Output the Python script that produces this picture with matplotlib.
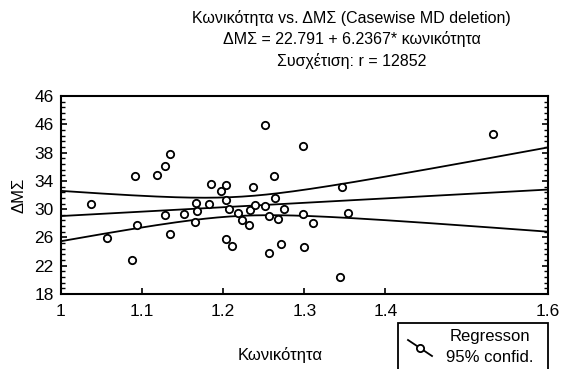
import numpy as np
import matplotlib.pyplot as plt
from matplotlib.lines import Line2D
from matplotlib.patches import Rectangle
from matplotlib.ticker import AutoMinorLocator

plt.rcParams['font.family'] = ['Liberation Sans', 'DejaVu Sans']

# Κωνικότητα values (x)
konikotita = [1.037, 1.057, 1.088, 1.091, 1.094, 1.119, 1.128, 1.128, 1.135, 1.135,
              1.152, 1.165, 1.166, 1.168, 1.183, 1.185, 1.197, 1.203, 1.204, 1.204,
              1.207, 1.211, 1.218, 1.223, 1.232, 1.233, 1.237, 1.239, 1.252, 1.252,
              1.256, 1.257, 1.263, 1.264, 1.268, 1.271, 1.275, 1.299, 1.298, 1.300,
              1.311, 1.346, 1.344, 1.354, 1.532]
# ΔΜΣ values (y)
dms = [30.77, 25.92, 22.77, 34.73, 27.72, 34.79, 29.13, 36.10, 37.76, 26.44,
       29.36, 28.18, 30.83, 29.74, 30.77, 33.60, 32.61, 33.37, 31.25, 25.82,
       29.98, 24.75, 29.46, 28.51, 27.72, 29.88, 33.13, 30.63, 41.95, 30.40,
       28.99, 23.80, 34.69, 31.58, 28.57, 25.07, 29.98, 38.98, 29.36, 24.69,
       28.00, 33.13, 20.45, 29.41, 40.67]

# printed regression coefficients
INTERCEPT = 22.791
SLOPE = 6.2367
T_CRIT = 2.017  # t(0.975, n-2)

x_ticks = [1.0, 1.1, 1.2, 1.3, 1.4, 1.6]
x_ticklabels = ['1', '1.1', '1.2', '1.3', '1.4', '1.6']
y_ticks = [18, 22, 26, 30, 34, 38, 42, 46]
y_ticklabels = ['18', '22', '26', '30', '34', '38', '46', '46']

x = np.array(konikotita)
y = np.array(dms)
n = len(x)
resid = y - (INTERCEPT + SLOPE * x)
s = np.sqrt(np.sum(resid ** 2) / (n - 2))
sxx = np.sum((x - x.mean()) ** 2)

xs = np.linspace(1.0, 1.6, 200)
fit = INTERCEPT + SLOPE * xs
hw = T_CRIT * s * np.sqrt(1.0 / n + (xs - x.mean()) ** 2 / sxx)

fig = plt.figure(figsize=(5.63, 3.69), dpi=100)
ax = fig.add_axes([0.108, 0.203, 0.865, 0.537])

ax.plot(xs, fit, color='black', lw=1.3)
ax.plot(xs, fit + hw, color='black', lw=1.3)
ax.plot(xs, fit - hw, color='black', lw=1.3)
ax.scatter(x, y, s=28, facecolor='white', edgecolor='black', linewidth=1.3, zorder=3)

ax.set_xlim(1.0, 1.6)
ax.set_ylim(18, 46)
ax.set_xticks(x_ticks)
ax.set_xticklabels(x_ticklabels)
ax.set_yticks(y_ticks)
ax.set_yticklabels(y_ticklabels)
ax.yaxis.set_minor_locator(AutoMinorLocator(5))
ax.tick_params(axis='both', which='major', direction='in', length=4, width=1.2,
               labelsize=12.5, pad=5)
ax.tick_params(axis='x', pad=7)
ax.tick_params(axis='y', which='both', left=True, right=True)
ax.tick_params(axis='y', which='minor', direction='in', length=3, width=1.0)
for sp in ax.spines.values():
    sp.set_linewidth(1.5)

ax.set_ylabel('ΔΜΣ', fontsize=12, labelpad=6)
fig.text(280 / 563, 1 - 355 / 369, 'Κωνικότητα', ha='center', va='center', fontsize=12)

# title block
fig.text(0.625, 1 - 18 / 369, 'Κωνικότητα vs. ΔΜΣ (Casewise MD deletion)',
         ha='center', va='center', fontsize=11.5)
fig.text(0.625, 1 - 39 / 369, 'ΔΜΣ = 22.791 + 6.2367* κωνικότητα',
         ha='center', va='center', fontsize=11.5)
fig.text(0.625, 1 - 61 / 369, 'Συσχέτιση: r = 12852',
         ha='center', va='center', fontsize=11.5)

# legend box (cut by the figure's bottom edge, as in the reference)
fig.add_artist(Rectangle((398 / 563, -0.05), 150 / 563, 1 - 323 / 369 + 0.05,
                         transform=fig.transFigure, fill=False, lw=1.3,
                         edgecolor='black'))
fig.add_artist(Line2D([408 / 563, 432 / 563], [1 - 340 / 369, 1 - 356 / 369],
                      transform=fig.transFigure, color='black', lw=1.3))
fig.add_artist(Line2D([420 / 563], [1 - 348 / 369], transform=fig.transFigure,
                      marker='o', markersize=5.2, markerfacecolor='white',
                      markeredgecolor='black', markeredgewidth=1.3))
fig.text(490 / 563, 1 - 336 / 369, 'Regresson', ha='center', va='center', fontsize=12)
fig.text(490 / 563, 1 - 357 / 369, '95% confid.', ha='center', va='center', fontsize=12)

fig.savefig('out.png', dpi=100)
